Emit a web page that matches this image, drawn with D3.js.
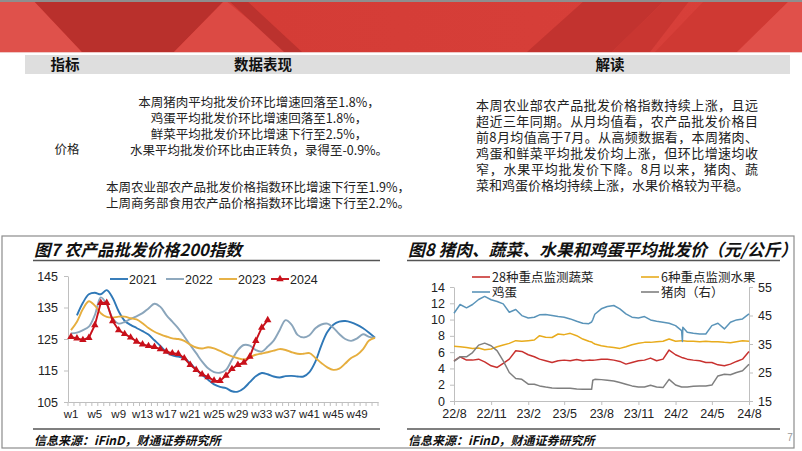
<!DOCTYPE html>
<html><head><meta charset="utf-8">
<script src="https://cdn.jsdelivr.net/npm/d3@7"></script>
<style>
body{margin:0;background:#fff;}
svg{display:block;}
</style></head><body>
<svg id="c" width="802" height="451"></svg>
<script>
// ================= DATA =================
// Fig 7: weekly agricultural wholesale price 200 index
const weeks = ["w1","w2","w3","w4","w5","w6","w7","w8","w9","w10","w11","w12","w13","w14","w15","w16","w17","w18","w19","w20","w21","w22","w23","w24","w25","w26","w27","w28","w29","w30","w31","w32","w33","w34","w35","w36","w37","w38","w39","w40","w41","w42","w43","w44","w45","w46","w47","w48","w49","w50","w51","w52"];
const weekTicks = ["w1","w5","w9","w13","w17","w21","w25","w29","w33","w37","w41","w45","w49"];
const indexTicks = [105,115,125,135,145];
const s2021 = [null,132.5,136.5,139.2,139.7,139.2,140.5,138.0,133.8,130.8,129.5,128.5,127.5,126.4,124.6,122.8,120.8,119.8,119.4,118.9,117.3,115.3,113.6,112.1,110.6,109.8,109.4,108.4,108.3,109.4,111.3,113.2,114.2,113.8,113.1,112.8,113.2,113.3,113.1,113.1,114.5,117.8,123.0,127.2,129.5,130.5,130.7,130.3,129.5,128.4,127.0,125.4];
const s2022 = [126.8,127.0,127.8,128.9,132.6,138.2,136.0,131.5,129.9,130.4,131.4,132.2,133.2,134.7,136.2,135.2,132.6,130.5,128.4,125.8,123.1,120.5,117.8,115.7,114.5,114.3,115.2,118.4,121.5,123.1,122.9,121.5,121.0,122.6,124.5,127.8,131.0,129.6,126.3,125.5,126.2,128.4,129.6,129.9,128.6,126.6,125.0,124.4,125.2,126.5,125.7,125.4];
const s2023 = [127.8,130.5,134.5,137.0,135.6,133.2,132.0,131.8,132.1,132.1,131.6,131.2,130.0,128.5,127.3,126.5,125.8,125.2,125.0,124.4,123.2,122.3,122.0,122.4,122.0,121.2,120.3,119.5,118.9,118.5,119.2,120.0,120.4,120.8,121.3,121.8,121.5,120.8,120.3,120.3,120.5,119.0,117.4,116.0,115.2,115.6,117.2,119.0,120.0,121.8,124.5,125.4];
const s2024 = [125.7,125.2,124.7,125.4,129.4,136.5,136.5,130.7,127.8,126.6,125.5,124.2,123.3,122.8,122.5,121.8,121.0,120.5,120.3,118.9,116.8,115.2,113.8,112.9,111.8,111.7,113.4,115.5,116.8,117.5,119.4,124.4,128.6,131.0];

// Fig 8: average wholesale prices (yuan/kg)
const dates = ["2022-08-01","2022-08-16","2022-09-01","2022-09-16","2022-10-01","2022-10-16","2022-11-01","2022-11-16","2022-12-01","2022-12-16",
 "2023-01-01","2023-01-16","2023-02-01","2023-02-16","2023-03-01","2023-03-16","2023-04-01","2023-04-16","2023-05-01","2023-05-16","2023-06-01","2023-06-16",
 "2023-07-01","2023-07-08","2023-07-11","2023-07-16",
 "2023-08-01","2023-08-16","2023-09-01","2023-09-16","2023-10-01","2023-10-16","2023-11-01","2023-11-16","2023-12-01","2023-12-16",
 "2024-01-01","2024-01-16","2024-02-01","2024-02-16","2024-02-18","2024-02-19",
 "2024-03-01","2024-03-16","2024-04-01","2024-04-16","2024-05-01","2024-05-16","2024-06-01","2024-06-16","2024-07-01","2024-07-16","2024-08-01"];
const vegetables = [4.94,5.43,5.02,5.02,5.14,4.81,4.32,4.12,4.61,5.14,
 6.17,6.09,5.68,5.43,5.14,4.94,4.73,4.94,5.02,4.94,5.10,4.94,
 5.02,5.00,5.00,5.02,
 5.14,5.14,5.02,4.86,4.53,4.73,4.94,5.02,5.27,4.94,
 5.14,6.26,5.68,5.35,5.30,5.30,
 5.14,5.02,4.94,4.73,4.73,4.44,4.32,4.53,4.86,5.14,6.09];
const fruits = [6.71,6.67,6.58,6.45,6.50,6.30,6.38,6.67,6.87,7.08,
 7.41,7.33,7.41,7.49,8.02,7.82,7.80,8.23,8.15,8.31,8.02,7.61,
 7.33,7.25,7.15,7.00,
 6.79,6.67,6.58,6.46,6.67,6.91,7.08,7.20,7.20,7.28,
 7.33,7.61,7.33,7.41,7.40,7.40,
 7.33,7.33,7.28,7.33,7.28,7.28,7.20,7.16,7.28,7.41,7.33];
const eggs = [10.78,11.85,11.44,11.85,12.47,12.84,12.43,12.22,11.93,10.90,
 11.23,10.49,10.20,10.29,10.58,10.62,10.50,10.37,10.29,10.08,9.79,9.55,
 9.50,9.70,10.00,10.65,
 11.32,11.60,11.73,11.32,10.70,10.29,10.20,10.37,9.96,9.79,
 9.67,9.55,9.26,8.64,7.30,9.05,
 8.44,8.31,8.23,8.23,9.26,9.55,8.85,9.67,9.96,10.08,10.70];
const pork = [28.9,30.5,30.5,32.0,34.6,35.3,34.4,32.6,29.1,25.0,
 22.9,22.6,20.9,20.9,20.3,19.9,19.6,19.5,19.5,19.5,19.2,19.1,
 19.1,19.1,22.3,22.6,
 22.5,22.3,22.05,21.5,20.9,20.3,19.94,19.94,20.5,19.94,
 19.7,22.6,20.6,19.94,19.9,19.9,
 19.94,20.2,20.3,20.3,20.6,23.8,24.4,24.2,25.0,25.6,27.9];
const dateTicks = ["2022-08-01","2022-11-01","2023-02-01","2023-05-01","2023-08-01","2023-11-01","2024-02-01","2024-05-01","2024-08-01"];
const dateTickLabels = ["22/8","22/11","23/2","23/5","23/8","23/11","24/2","24/5","24/8"];
const leftTicks = [0,2,4,6,8,10,12,14];
const rightTicks = [15,25,35,45,55];

// Table text
const tableHeaders = ["指标","数据表现","解读"];
const priceLinesA = ["本周猪肉平均批发价环比增速回落至1.8%，","鸡蛋平均批发价环比增速回落至1.8%，","鲜菜平均批发价环比增速下行至2.5%，","水果平均批发价环比由正转负，录得至-0.9%。"];
const priceLinesB = ["本周农业部农产品批发价格指数环比增速下行至1.9%，","上周商务部食用农产品价格指数环比增速下行至2.2%。"];
const readLines = ["本周农业部农产品批发价格指数持续上涨，且远","超近三年同期。从月均值看，农产品批发价格目","前8月均值高于7月。从高频数据看，本周猪肉、","鸡蛋和鲜菜平均批发价均上涨，但环比增速均收","窄，水果平均批发价下降。8月以来，猪肉、蔬","菜和鸡蛋价格均持续上涨，水果价格较为平稳。"];

// ================= DRAW =================
const svg = d3.select("#c");
const LAT = '"Liberation Sans", Arial, sans-serif';
const CJK = '"Noto Sans CJK SC", "Liberation Sans", sans-serif';

// ---- banner ----
const bn = svg.append("g");
const bg = svg.append("defs").append("linearGradient").attr("id","bng").attr("x1",0).attr("x2",1);
bg.append("stop").attr("offset",0).attr("stop-color","#d23a34");
bg.append("stop").attr("offset",1).attr("stop-color","#d8403a");
bn.append("rect").attr("x",0).attr("y",0).attr("width",802).attr("height",52).attr("fill","url(#bng)");
const shapes = [
  {p:[[0,0],[33,0],[82,52],[0,52]], c:"#df514b"},
  {p:[[33,0],[225,0],[174,52],[82,52]], c:"#b9302c"},
  {p:[[225,0],[174,52],[288,52]], c:"#dc4a44"},
  {p:[[228,0],[246,0],[302,52],[284,52]], c:"#bb322e"},
  {p:[[585,0],[665,0],[612,52],[527,52]], c:"#c2332f"},
  {p:[[665,0],[690,0],[650,52],[612,52]], c:"#c93631"},
  {p:[[705,0],[790,0],[737,52],[655,52]], c:"#cf3933"},
  {p:[[790,0],[802,0],[802,52],[737,52]], c:"#e0504a"}
];
bn.selectAll("polygon").data(shapes).join("polygon")
  .attr("points",d=>d.p.map(q=>q.join(",")).join(" ")).attr("fill",d=>d.c);
bn.append("rect").attr("x",0).attr("y",0).attr("width",802).attr("height",2).attr("fill","#8e8e8e");
bn.append("rect").attr("x",0).attr("y",52).attr("width",802).attr("height",1).attr("fill","#f0c8c6");

// ---- table ----
svg.append("rect").attr("x",25).attr("y",55).attr("width",765).attr("height",19).attr("fill","#dedede");
const hx = [65,263,610];
svg.selectAll(".th").data(tableHeaders).join("text").attr("class","th")
  .attr("x",(d,i)=>hx[i]).attr("y",65).attr("dy","0.36em").attr("text-anchor","middle")
  .attr("font-family",CJK).attr("font-weight","bold").attr("font-size",14.5).attr("fill","#111").text(d=>d);
svg.append("text").attr("x",67).attr("y",149).attr("dy","0.36em").attr("text-anchor","middle")
  .attr("font-family",CJK).attr("font-size",12.5).attr("fill","#222").text("价格");
svg.selectAll(".pa").data(priceLinesA).join("text").attr("class","pa")
  .attr("x",259).attr("y",(d,i)=>102+i*16.3).attr("dy","0.36em").attr("text-anchor","middle")
  .attr("font-family",CJK).attr("font-size",12.5).attr("fill","#222").text(d=>d);
svg.selectAll(".pb").data(priceLinesB).join("text").attr("class","pb")
  .attr("x",258).attr("y",(d,i)=>187+i*16.3).attr("dy","0.36em").attr("text-anchor","middle")
  .attr("font-family",CJK).attr("font-size",12.5).attr("fill","#222").text(d=>d);
svg.selectAll(".rl").data(readLines).join("text").attr("class","rl")
  .attr("x",476).attr("y",(d,i)=>105+i*16).attr("dy","0.36em")
  .attr("font-family",CJK).attr("font-size",13).attr("fill","#222")
  .each(function(d,i){ if(i<readLines.length-1){ d3.select(this).attr("textLength",282).attr("lengthAdjust","spacing"); } })
  .text(d=>d);

// ---- bottom frame ----
svg.append("rect").attr("x",2).attr("y",236).attr("width",792).attr("height",212)
  .attr("fill","none").attr("stroke","#8c8c8c").attr("stroke-width",1.2);

// ---- titles / rules / sources ----
function panelFrame(x0,x1,title,fs){
  svg.append("text").attr("x",x0+1).attr("y",250).attr("dy","0.36em")
    .attr("font-family",CJK).attr("font-weight","bold").attr("font-style","italic")
    .attr("font-size",fs).attr("fill","#111").text(title);
  svg.append("line").attr("x1",x0).attr("x2",x1).attr("y1",260.5).attr("y2",260.5).attr("stroke","#555").attr("stroke-width",1.3);
  svg.append("line").attr("x1",x0).attr("x2",x1).attr("y1",429).attr("y2",429).attr("stroke","#555").attr("stroke-width",1.3);
  svg.append("text").attr("x",x0+1).attr("y",441).attr("dy","0.36em")
    .attr("font-family",CJK).attr("font-weight","bold").attr("font-style","italic")
    .attr("font-size",12).attr("fill","#111").text("信息来源：iFinD，财通证券研究所");
}
panelFrame(33,380,"图7 农产品批发价格200指数",16.5);
panelFrame(407,780,"图8 猪肉、蔬菜、水果和鸡蛋平均批发价（元/公斤）",16.8);
svg.append("text").attr("x",790).attr("y",437).attr("dy","0.36em").attr("text-anchor","middle")
  .attr("font-family",LAT).attr("font-size",10).attr("fill","#999").text("7");

// ---- Figure 7 ----
const xW = d3.scaleBand().domain(weeks).range([68,378]);
const cx = w => xW(w) + xW.bandwidth()/2;
const yI = d3.scaleLinear().domain([105,145]).range([402,276]);
function styleAxis(g, size){
  g.select(".domain").attr("stroke","#bfbfbf");
  g.selectAll(".tick line").attr("stroke","#bfbfbf");
  g.selectAll("text").attr("font-family",LAT).attr("font-size",size).attr("fill","#222");
}
svg.append("g").attr("transform","translate(68,0)")
  .call(d3.axisLeft(yI).tickValues(indexTicks).tickSize(4).tickSizeOuter(0).tickPadding(6))
  .call(g=>styleAxis(g,12.5));
svg.append("g").attr("transform","translate(0,402)")
  .call(d3.axisBottom(xW).tickValues(weekTicks).tickSize(0).tickSizeOuter(0).tickPadding(8))
  .call(g=>styleAxis(g,11.5));
svg.append("g").selectAll("line").data(weeks.concat(["end"])).join("line")
  .attr("x1",d=>d==="end"?378:xW(d)).attr("x2",d=>d==="end"?378:xW(d))
  .attr("y1",402).attr("y2",406).attr("stroke","#bfbfbf");

const idxSeries = [
  {name:"2021", vals:s2021, color:"#2f78b7"},
  {name:"2022", vals:s2022, color:"#8aa5bb"},
  {name:"2023", vals:s2023, color:"#e6ae3e"},
  {name:"2024", vals:s2024, color:"#c8101a"}
];
const idxLine = d3.line().defined(d=>d.v!=null).x(d=>cx(d.w)).y(d=>yI(d.v));
const gI = svg.append("g");
idxSeries.forEach((s,k)=>{
  const pts = s.vals.map((v,i)=>({w:weeks[i], v}));
  gI.append("path").datum(pts)
    .attr("d", idxLine.curve(k<3 ? d3.curveCatmullRom.alpha(0.5) : d3.curveLinear)(pts))
    .attr("fill","none").attr("stroke",s.color).attr("stroke-width",1.9);
  if(k===3){
    gI.selectAll(".tri").data(pts).join("path").attr("class","tri")
      .attr("transform",d=>`translate(${cx(d.w)},${yI(d.v)})`)
      .attr("d",d3.symbol(d3.symbolTriangle,24)).attr("fill",s.color);
  }
});
// legend
const legX = [110,166,219,271];
idxSeries.forEach((s,k)=>{
  const g = svg.append("g").attr("transform",`translate(${legX[k]},279)`);
  g.append("line").attr("x1",0).attr("x2",18).attr("stroke",s.color).attr("stroke-width",1.9);
  if(k===3) g.append("path").attr("transform","translate(9,0)").attr("d",d3.symbol(d3.symbolTriangle,24)).attr("fill",s.color);
  g.append("text").attr("x",19).attr("dy","0.36em").attr("font-family",LAT).attr("font-size",12.5).attr("fill","#222").text(s.name);
});

// ---- Figure 8 ----
const parse = d3.timeParse("%Y-%m-%d");
const xT = d3.scaleTime().domain([parse(dateTicks[0]), parse(dateTicks[dateTicks.length-1])]).range([454,749]);
const yLeft = d3.scaleLinear().domain([0,14]).range([401,287]);
const yRight = d3.scaleLinear().domain([15,55]).range([401,287]);
svg.append("g").attr("transform","translate(454,0)")
  .call(d3.axisLeft(yLeft).tickValues(leftTicks).tickSize(4).tickSizeOuter(0).tickPadding(5))
  .call(g=>styleAxis(g,12.5));
svg.append("g").attr("transform","translate(749,0)")
  .call(d3.axisRight(yRight).tickValues(rightTicks).tickSize(4).tickSizeOuter(0).tickPadding(5))
  .call(g=>styleAxis(g,12.5));
svg.append("g").attr("transform","translate(0,401)")
  .call(d3.axisBottom(xT).tickValues(dateTicks.map(parse)).tickFormat((d,i)=>dateTickLabels[i]).tickSize(4).tickSizeOuter(0).tickPadding(4))
  .call(g=>styleAxis(g,12.5));

const priceSeries = [
  {name:"28种重点监测蔬菜", vals:vegetables, color:"#c8312f", y:yLeft},
  {name:"6种重点监测水果", vals:fruits, color:"#e8ab1c", y:yLeft},
  {name:"鸡蛋", vals:eggs, color:"#5a94b9", y:yLeft},
  {name:"猪肉（右）", vals:pork, color:"#7f7f7f", y:yRight}
];
const gP = svg.append("g");
priceSeries.forEach(s=>{
  const pts = s.vals.map((v,i)=>({d:parse(dates[i]), v}));
  gP.append("path").datum(pts)
    .attr("d", d3.line().x(d=>xT(d.d)).y(d=>s.y(d.v))(pts))
    .attr("fill","none").attr("stroke",s.color).attr("stroke-width",1.5).attr("stroke-linejoin","round");
});
const legPos = [[472,277],[641,277],[472,292],[641,292]];
priceSeries.forEach((s,k)=>{
  const g = svg.append("g").attr("transform",`translate(${legPos[k][0]},${legPos[k][1]})`);
  g.append("line").attr("x1",0).attr("x2",18).attr("stroke",s.color).attr("stroke-width",1.6);
  g.append("text").attr("x",20).attr("dy","0.36em").attr("font-family",CJK).attr("font-size",12.5).attr("fill","#222").text(s.name);
});
</script>
</body></html>
